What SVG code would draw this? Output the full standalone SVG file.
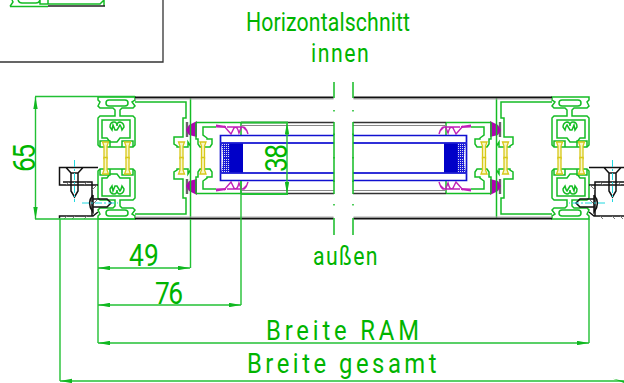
<svg xmlns="http://www.w3.org/2000/svg" width="624" height="383" viewBox="0 0 624 383">
<style>
text{font-family:"Roboto","Liberation Sans",sans-serif;font-weight:400;fill:#00b400;font-size:25px}
.big{font-size:31px}
.wide{font-size:28px}
.g{fill:none;stroke:#14bc24;stroke-width:1.500}
.d{fill:none;stroke:#22c034;stroke-width:1.400}
.dm{fill:none;stroke:#22c034;stroke-width:1.400;marker-start:url(#a);marker-end:url(#a)}
.k{fill:none;stroke:#111;stroke-width:1.500}
.c{fill:none;stroke:#20d8e0;stroke-width:1;stroke-dasharray:7 2 2 2}
.y{fill:#f8f6c8;stroke:#d8c818;stroke-width:1.300}
.b{fill:none;stroke:#1010d0;stroke-width:1.700}
.m{fill:none;stroke:#c020b8;stroke-width:1.400}
.mf{fill:#b000b0}
.h{fill:none;stroke:#777;stroke-width:1}
</style>
<defs>
<marker id="a" viewBox="0 0 12 4.400" refX="12" refY="2.200" markerUnits="userSpaceOnUse" markerWidth="12" markerHeight="4.400" orient="auto-start-reverse"><path d="M12 2.200L0 0V4.400Z" fill="#10b820"/></marker>
<pattern id="p" width="2" height="2" patternUnits="userSpaceOnUse"><rect width="2" height="2" fill="#1818d8"/><rect width="1" height="1" fill="#dde"/></pattern>
<g id="q">
<!-- frame -->
<path class="g" d="M98 97H135V100L132 102L135 106L133 108H122L120 110V116H133L135 118V145L133 147H100L98 145V118L100 116H115V110L113 108H100L98 106L100 102L98 100Z"/>
<rect class="g" x="106" y="100" width="22" height="6" rx="3"/>
<path class="g" d="M102 120H130V138H120L117 142H110L107 138H102Z"/>
<path class="g" d="M110 127Q110 122 114 122Q117 122 117 126Q117 122 120 122Q124 123 124 127L122 130Q121 126 120 125L117 130H115L113 125L112 130Z"/>
<path class="g" d="M100 147V141H110V147M122 147V141H133V147"/>
<path class="y" d="M102.500 142H108.500L107 146V158.500H104V146ZM124.500 142H130.500L129 146V158.500H126V146Z"/>
<!-- outer profile -->
<path class="g" d="M135 102H186V118H183V137H174V144L177 146V147H188V142L190.500 146"/>
<path d="M187 122V137" fill="none" stroke="#666" stroke-width="2.400"/>
<path class="mf" d="M186 130L189 125L197 121V137L189 135Z"/>
<path class="y" d="M178.500 142H184.500L183 146V158.500H180V146Z"/>
<!-- sash -->
<path class="g" d="M196 122.500H241M196 122.500V139H198V144L200 147H210L212 144V139H207V138L203 135V127H216"/>
<path class="y" d="M200 142H206L204.500 146V158.500H201.500V146Z"/>
<path class="g" d="M241 122V135"/>
<!-- gasket -->
<path d="M216 124.500L226 126V128L216 127.500Z" fill="#c020b8"/>
<path class="m" d="M224 126L231 134L234 128Q237 125 239 133L241 128Q245 124 248 134M227 127H238L243 127L247 131"/>
<!-- glass -->
<path class="b" d="M334 135.500H220.500V158"/>
<path d="M334 143H220.500" fill="none" stroke="#3030d8" stroke-width="1.800"/>
<path d="M221 143.500H230V158H223L222.500 150Z" fill="url(#p)"/>
<rect x="229.500" y="143.500" width="13.500" height="14.500" fill="#0000c8"/>
<path d="M241 122.500H334" fill="none" stroke="#333" stroke-width="1.700"/>
<path d="M241 125.500H334" fill="none" stroke="#888" stroke-width="1"/>
</g>
<g id="half">
<use href="#q"/>
<use href="#q" transform="matrix(1 0 0 -1 0 316)"/>
<path class="g" d="M190.500 97V219"/>
<path class="k" style="stroke-width:1.800" d="M135 97.500H333.500M135 218.500H333.500"/>
<path d="M135 99H333.500M135 217H333.500" stroke="#aaa" fill="none"/>
<path class="g" d="M334 122V194M334 82V98M334 218V235"/>
<path class="g" stroke-dasharray="1.500 22" d="M334 110V210"/>
<!-- screw block -->
<path class="k" d="M98 167.500H59.500V185H98M59.500 218.500V216H93L98 212M66 167.500L71 173V191L74.500 197L78 191V173L83 167.500M71 173H78M63 182H92V216"/>
<path class="h" d="M66 185L69 182M84 185L87 182M92 190L97 185M92 205L97 200M72 219L75 216M84 219L87 216M64 219L67 216"/>
<path class="k" d="M93 195Q86 203 93 212V195M93 199H107L111 203L107 207H93"/>
<path class="c" d="M74.500 160V202M82 203H118"/>
</g>
</defs>

<g id="inset">
<path d="M0 62H163V0" fill="none" stroke="#333" stroke-width="1.300"/>
<path class="g" d="M10 6.500L13 2L12 0M40 0L40 4H48V0M18 0Q19 3 22 3H36Q39 3 40 0M48 4H100L104 0V6"/>
<path d="M48 6H105" stroke="#222" stroke-width="1.300"/>
<path class="g" d="M10 6.500H48"/>
</g>

<g id="section-left"><use href="#half"/></g>
<g id="section-right"><use href="#half" transform="matrix(-1 0 0 1 687 0)"/></g>

<g id="connectors">
<path class="d" d="M35 96.500H135M35 219H135M60 219V381M98 219V343M190.500 219V268M241 181V305M589 219V343"/>
<path class="dm" d="M35.500 97V219"/>
<path class="dm" d="M287 122.500V194"/>
<path class="d" style="stroke-width:1.800" d="M241 122.500H288M241 194H288"/>
<path class="dm" d="M98 268H190"/>
<path class="dm" d="M98 305H241"/>
<path class="dm" d="M98 343H589"/>
<path class="d" d="M60 381H624"/>
<path d="M60 381L72 378.800V383.200Z M613 378.800L624 381V383Z" fill="#10b820"/>
</g>

<g id="labels">
<text transform="translate(246 31) scale(.85 1)" textLength="193" lengthAdjust="spacing">Horizontalschnitt</text>
<text transform="translate(311 62) scale(.85 1)" textLength="68" lengthAdjust="spacing">innen</text>
<text transform="translate(313 265) scale(.85 1)" textLength="76" lengthAdjust="spacing">außen</text>
<text class="big" transform="translate(129 266) scale(.85 1)" textLength="35" lengthAdjust="spacing">49</text>
<text class="big" transform="translate(155 304) scale(.85 1)" textLength="33" lengthAdjust="spacing">76</text>
<text class="wide" transform="translate(266 340) scale(.85 1)" textLength="180" lengthAdjust="spacing">Breite RAM</text>
<text class="wide" transform="translate(247 373) scale(.85 1)" textLength="223" lengthAdjust="spacing">Breite gesamt</text>
<text class="big" transform="translate(35 172) rotate(-90) scale(.85 1)" textLength="33" lengthAdjust="spacing">65</text>
<text class="big" transform="translate(287 172) rotate(-90) scale(.85 1)" textLength="33" lengthAdjust="spacing">38</text>
</g>
</svg>
